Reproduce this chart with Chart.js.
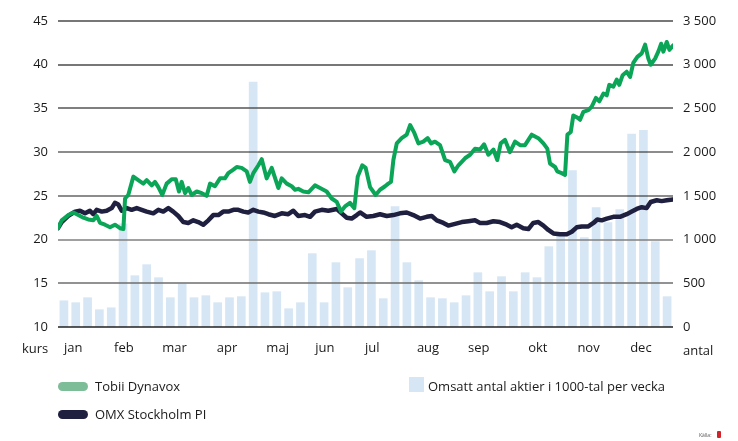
<!DOCTYPE html>
<html>
<head>
<meta charset="utf-8">
<script src="https://cdn.jsdelivr.net/npm/chart.js@4.4.1/dist/chart.umd.min.js"></script>
<style>
  html, body { margin:0; padding:0; background:#fff; }
  #wrap { position:relative; width:738px; height:441px; overflow:hidden; font-family:"Open Sans", sans-serif; color:#1a1a1a; }
  #c { position:absolute; left:0; top:0; }
  .lbl { position:absolute; font-size:13px; line-height:16px; white-space:nowrap; }
  .pill { position:absolute; width:30px; height:9px; border-radius:5px; }
  .sq { position:absolute; width:15px; height:15px; background:#d6e6f4; }
</style>
</head>
<body>
<div id="wrap">
  <canvas id="c" width="738" height="441"></canvas>
  <div class="lbl" style="left:22px; top:340px;">kurs</div>
  <div class="lbl" style="left:683px; top:342px;">antal</div>
  <div class="pill" style="left:58px; top:382px; background:#7dbd97;"></div>
  <div class="lbl" style="left:95px; top:378px;">Tobii Dynavox</div>
  <div class="pill" style="left:58px; top:410px; background:#1f1f40;"></div>
  <div class="lbl" style="left:95px; top:406px;">OMX Stockholm PI</div>
  <div class="sq" style="left:409px; top:377px;"></div>
  <div class="lbl" style="left:428px; top:378px;">Omsatt antal aktier i 1000-tal per vecka</div>
  <div class="lbl" style="left:699px; top:432px; font-size:5px; line-height:6px; color:#555;">Källa:</div>
  <div style="position:absolute; left:717px; top:431px; width:4px; height:7px; background:#d2232a; border-radius:1px;"></div>
</div>
<script>
// Month labels and the day-of-year where each label sits
const monthLabels = ['jan','feb','mar','apr','maj','jun','jul','aug','sep','okt','nov','dec'];
const monthDays   = [9, 39, 69, 100, 130, 158, 186, 219, 249, 284, 314, 345];

// Weekly turnover (thousands of shares per week), 52 weeks
const omsatt = [300,278,335,198,220,1180,587,713,564,335,
                492,335,358,278,335,347,2800,392,404,209,
                278,839,278,736,450,782,873,324,1377,736,
                530,335,324,278,358,621,404,576,404,621,
                564,919,1080,1790,1022,1365,1193,1342,2208,2250,
                976,347];

// Tobii Dynavox share price (kurs), day of year + value
const tobiiDay = [0,2.2,6.1,9.1,12.0,15.0,17.9,20.9,22.9,24.9,27.8,30.8,33.7,36.7,38.7,39.7,41.6,44.6,47.5,50.5,
  52.5,55.5,57.4,59.4,61.7,64.3,67.3,69.7,71.6,73.2,75.2,77.1,79.1,82.1,85.1,88.0,90.0,92.9,95.9,98.8,
  100.8,103.8,105.8,108.7,111.7,113.6,115.6,118.6,120.6,123.5,126.5,130.4,132.4,135.4,138.3,140.3,142.2,145.2,148.2,152.1,
  155.1,159.0,162.0,165.0,167.5,169.9,172.8,175.4,177.4,180.1,182.1,184.7,188.0,190.6,193.6,195.5,197.1,198.5,200.5,203.4,
  206.4,208.4,210.9,213.3,216.2,218.8,220.8,223.1,226.1,229.1,232.0,234.6,237.0,240.9,243.9,246.8,249.8,252.2,254.7,257.7,
  260.0,262.0,264.6,267.5,270.5,273.5,276.4,280.4,284.3,287.3,289.6,291.2,294.2,295.5,298.1,300.1,301.5,303.5,305.0,307.0,
  309.0,310.9,313.9,315.9,318.4,320.4,322.8,324.8,326.3,328.7,330.7,332.2,334.2,336.6,338.6,340.5,342.9,345.5,347.5,349.4,
  350.8,353.4,355.3,357.0,358.3,360.3,361.9,364];
const tobiiKurs = [21.3,22.2,22.8,23.1,22.8,22.5,22.3,22.2,22.7,21.9,21.7,21.4,21.7,21.3,21.2,24.7,25.1,27.2,26.8,26.4,
  26.8,26.2,26.6,26.0,25.1,26.4,26.9,26.9,25.5,26.6,25.3,25.9,25.1,25.5,25.3,25.0,26.4,26.1,27.0,27.0,
  27.6,28.0,28.3,28.2,27.8,26.6,27.6,28.5,29.2,27.0,28.2,25.9,27.0,26.4,26.1,25.7,25.8,25.5,25.4,26.2,
  25.9,25.5,24.7,24.3,23.2,23.8,24.2,23.6,27.2,28.5,28.2,26.0,25.1,25.7,26.1,26.4,26.6,29.1,31.0,31.6,
  32.0,33.1,32.2,31.0,31.2,31.6,31.0,31.2,30.8,29.1,28.9,27.8,28.5,29.3,29.7,30.4,30.3,30.9,29.7,30.3,
  29.1,31.0,31.4,30.0,31.2,30.8,30.8,32.0,31.6,31.0,30.4,28.7,28.3,27.8,27.6,27.4,32.0,32.3,34.2,34.0,
  33.7,34.6,34.8,35.2,36.2,35.8,36.7,36.5,37.7,37.5,38.3,37.7,38.8,39.2,38.6,40.2,40.9,41.3,42.3,40.7,
  40.0,40.7,41.5,42.4,41.5,42.6,41.7,42.2];

// OMX Stockholm PI (indexed to kurs scale), day of year + value
const omxDay = [0,2.2,6.1,10.1,13.0,16.0,18.9,20.9,22.9,25.9,28.8,31.8,33.7,35.7,37.7,40.7,43.6,46.6,49.5,52.5,
  56.4,59.4,62.3,65.3,68.2,71.2,74.2,77.1,80.1,83.0,86.0,89.0,91.9,94.9,97.8,100.8,103.8,106.7,109.7,112.6,
  115.6,118.6,121.5,124.5,128.4,132.4,136.3,139.3,142.2,146.2,149.2,152.1,156.1,160.0,165.0,167.9,170.9,173.8,176.8,178.8,
  182.7,186.6,190.6,194.6,198.5,202.4,206.4,210.3,214.3,218.2,221.2,224.2,228.1,231.0,235.0,239.0,242.9,246.8,249.8,253.7,
  257.7,261.6,265.6,268.5,271.5,275.4,278.4,281.3,284.3,287.3,290.2,293.2,297.1,301.1,304.1,307.0,310.0,313.9,316.9,319.2,
  321.8,324.8,328.7,332.6,336.6,339.6,342.5,345.5,348.4,350.8,354.4,357.3,360.3,364];
const omxKurs = [21.3,22.0,22.7,23.2,23.3,23.0,23.3,22.9,23.4,23.2,23.3,23.6,24.2,24.0,23.3,23.6,23.4,23.6,23.4,23.2,
  23.0,23.4,23.2,23.6,23.2,22.7,22.0,21.9,22.2,22.0,21.7,22.2,22.8,22.8,23.2,23.2,23.4,23.4,23.2,23.1,
  23.4,23.2,23.1,22.9,22.7,23.0,22.9,23.3,22.7,22.8,22.6,23.2,23.4,23.3,23.5,23.0,22.5,22.4,22.8,23.1,
  22.6,22.7,22.9,22.7,22.8,23.0,23.1,22.8,22.4,22.6,22.7,22.2,21.9,21.6,21.8,22.0,22.1,22.2,21.9,21.9,
  22.1,22.0,21.7,21.4,21.7,21.3,21.2,21.9,22.0,21.6,21.1,20.7,20.6,20.6,20.9,21.4,21.5,21.5,21.9,22.3,
  22.2,22.4,22.6,22.6,22.9,23.2,23.5,23.7,23.6,24.3,24.5,24.4,24.5,24.6];

// Gridline styles per left-axis tick (10 ... 45)
const gridColors = ['#222','#6e6e6e','#808080','#1a1a1a','#1a1a1a','#555','#777','#777'];
const gridWidths = [1.5,1.5,1.6,1.2,1.2,1.5,2,2];

const gridOverBars = {
  id: 'gridOverBars',
  afterDatasetDraw(chart, args) {
    if (args.index !== 0) return;
    const { ctx, chartArea, scales } = chart;
    const y = scales.y;
    ctx.save();
    y.ticks.forEach((t, i) => {
      const py = Math.round(y.getPixelForValue(t.value));
      ctx.strokeStyle = gridColors[i] || '#777';
      ctx.lineWidth = gridWidths[i] || 1.5;
      ctx.beginPath();
      ctx.moveTo(chartArea.left, py);
      ctx.lineTo(chartArea.right, py);
      ctx.stroke();
    });
    ctx.restore();
  }
};

const font = { family: '"Open Sans", sans-serif', size: 13 };

new Chart(document.getElementById('c'), {
  type: 'bar',
  data: {
    datasets: [
      {
        type: 'bar',
        label: 'Omsatt antal aktier i 1000-tal per vecka',
        data: omsatt.map((v, i) => ({ x: i * 7 + 3.5, y: v })),
        backgroundColor: '#d6e6f4',
        barThickness: 8,
        yAxisID: 'y1',
        order: 3
      },
      {
        type: 'line',
        label: 'OMX Stockholm PI',
        data: omxDay.map((d, i) => ({ x: d, y: omxKurs[i] })),
        borderColor: '#1f1f40',
        borderWidth: 4.5,
        pointRadius: 0,
        borderJoinStyle: 'round',
        borderCapStyle: 'round',
        tension: 0,
        yAxisID: 'y',
        order: 2
      },
      {
        type: 'line',
        label: 'Tobii Dynavox',
        data: tobiiDay.map((d, i) => ({ x: d, y: tobiiKurs[i] })),
        borderColor: '#0ba557',
        borderWidth: 4,
        pointRadius: 0,
        borderJoinStyle: 'round',
        borderCapStyle: 'round',
        tension: 0,
        yAxisID: 'y',
        order: 1
      }
    ]
  },
  options: {
    responsive: false,
    animation: false,
    devicePixelRatio: 1,
    layout: { padding: { top: 21, bottom: 84, left: 0, right: 0 } },
    plugins: { legend: { display: false }, tooltip: { enabled: false } },
    scales: {
      x: {
        type: 'linear',
        offset: false,
        min: 0, max: 364,
        grid: { display: false, drawTicks: false, offset: false },
        border: { display: false },
        afterBuildTicks: s => { s.ticks = monthDays.map(v => ({ value: v })); },
        afterFit: s => { s.height = 30; },
        ticks: {
          autoSkip: false, maxRotation: 0, padding: 13, color: '#1a1a1a', font,
          callback: v => monthLabels[monthDays.indexOf(v)]
        }
      },
      y: {
        position: 'left',
        min: 10, max: 45,
        grid: { display: false, drawTicks: false },
        border: { display: false },
        afterFit: s => { s.width = 58; },
        ticks: { stepSize: 5, padding: 10, color: '#1a1a1a', font }
      },
      y1: {
        position: 'right',
        min: 0, max: 3500,
        grid: { display: false, drawTicks: false },
        border: { display: false },
        afterFit: s => { s.width = 65; },
        ticks: {
          stepSize: 500, padding: 10, color: '#1a1a1a', font,
          callback: v => String(v).replace(/\B(?=(\d{3})+(?!\d))/g, ' ')
        }
      }
    }
  },
  plugins: [gridOverBars]
});
</script>
</body>
</html>
